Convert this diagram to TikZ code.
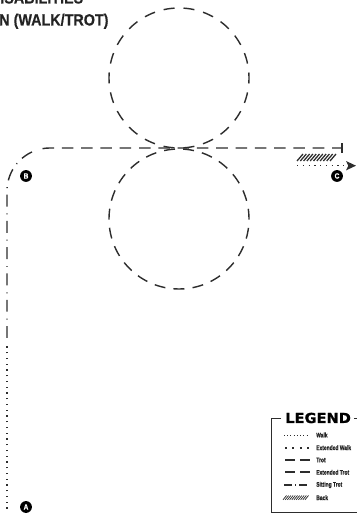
\documentclass[tikz,border=0pt]{standalone}
\usepackage{fontspec}
\setmainfont{Liberation Sans}
\newfontfamily\titlefont[FakeStretch=0.88,FakeBold=0.4]{Liberation Sans}
\newfontfamily\lgdfont[FakeStretch=0.73,FakeBold=0.5]{Liberation Sans}
\newfontfamily\lgdhead[FakeStretch=1.06,FakeBold=1.2]{DejaVu Sans}
\usetikzlibrary{arrows.meta}
\definecolor{inkdark}{RGB}{ 45,  45,  45}
\definecolor{inktext}{RGB}{ 35,  35,  35}
\tikzset{
	walkline/.style={inkdark,line width=1pt,dash pattern=on 1pt off 3.09pt},
	extwalkline/.style={inkdark,line width=1.3pt,dash pattern=on 1.3pt off 4pt},
	trotline/.style={inkdark,line width=1pt,dash pattern=on 8.2pt off 5.53pt},
	sitline/.style={inkdark,line width=1pt,dash pattern=on 8.5pt off 4.6pt on .7pt off 4.9pt},
	hatchline/.style={inkdark,line width=0.9pt},
	badge/.style={circle,fill=black,text=white,inner sep=0pt,minimum size=8.4pt,font=\titlefont\bfseries\fontsize{5.4}{5.4}\selectfont},
	lgdlabel/.style={anchor=west,inner sep=0pt,text=inktext,font=\lgdfont\bfseries\fontsize{4.8}{5}\selectfont},
	titlelabel/.style={anchor=base west,inner sep=0pt,text=inktext,font=\titlefont\bfseries\fontsize{11.6}{12}\selectfont}
}
\begin{document}
\begin{tikzpicture}[x=0.25mm,y=0.25mm]
	\useasboundingbox (0,0) rectangle (357,514);
	\node[titlelabel] (titleA) at (0,510.5) {ISABILITIES};
	\node[titlelabel] (titleB) at (-1,488.5) {N (WALK/TROT)};
	% circles
	\draw[inkdark,line width=1pt,dash pattern=on 7.82pt off 6.4pt,dash phase=11.02pt] (179,366) arc[start angle=-90,end angle=270,radius=70];
	\draw[inkdark,line width=1pt,dash pattern=on 7.8pt off 5.8pt,dash phase=3.9pt] (179,225) arc[start angle=-90,end angle=270,radius=70];
	% track from A over B to C
	\coordinate (arcC) at (50,323);
	\draw[walkline] (7,5.3)--(7,172);
	\draw[sitline] (7,176)--(7,323) arc[start angle=180,end angle=112,radius=43];
	\draw[trotline] (arcC) ++(100:43) arc[start angle=100,end angle=90,radius=43]--(342,366);
	\draw[inkdark,line width=1pt] (342,361)--(342,371);
	\foreach \hx in {297,300.3,...,332}
		\draw[hatchline] (\hx,353)--(\hx+6,360);
	\draw[walkline,-{Stealth[length=7pt,width=6.5pt,inset=1.5pt]}] (297,348.3)--(356,348.3);
	\node[badge] (ptA) at (26,7) {A};
	\node[badge] (ptB) at (26,338) {B};
	\node[badge] (ptC) at (337,338) {C};
	% legend
	\draw[inkdark,line width=0.7pt] (281,95.3)--(271,95.3)--(271,1.5)--(357,1.5);
	\draw[inkdark,line width=0.7pt] (354,95.3)--(357,95.3);
	\node[anchor=base west,inner sep=0pt,text=black,font=\lgdhead\bfseries\fontsize{9.8}{10}\selectfont] (lgdTitle) at (285,91) {LEGEND};
	\node[lgdlabel] (lWalk) at (316,79) {Walk};
	\node[lgdlabel] (lExtWalk) at (316,66.3) {Extended Walk};
	\node[lgdlabel] (lTrot) at (316,54) {Trot};
	\node[lgdlabel] (lExtTrot) at (316,41.7) {Extended Trot};
	\node[lgdlabel] (lSit) at (316,29) {Sitting Trot};
	\node[lgdlabel] (lBack) at (316,16.3) {Back};
	\draw[inkdark,line width=0.7pt,dash pattern=on .7pt off 1.6pt] (284,79)--(309,79);
	\draw[extwalkline] (285,66.3)--(309,66.3);
	\draw[inkdark,line width=.9pt,dash pattern=on 7.3pt off 3.2pt] (285,54)--(310,54);
	\draw[inkdark,line width=1.7pt,dash pattern=on 7.3pt off 3.2pt] (285,41.7)--(310,41.7);
	\draw[inkdark,line width=.9pt,dash pattern=on 5.5pt off 2.4pt on .7pt off 2.4pt] (284,29)--(309,29);
	\foreach \hx in {283,285.2,...,305}
		\draw[inkdark,line width=.5pt] (\hx,14.2)--(\hx+3.5,18.5);
\end{tikzpicture}
\end{document}
